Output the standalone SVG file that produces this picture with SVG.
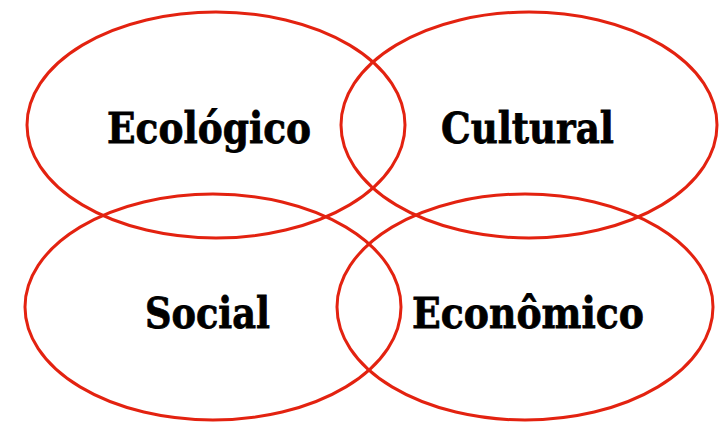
<svg xmlns="http://www.w3.org/2000/svg" width="728" height="430" viewBox="0 0 728 430">
<style>
.c{fill:none;stroke:#e32210;stroke-width:3}
.t{font-family:"DejaVu Serif","Liberation Serif",serif;font-weight:bold;font-size:42px;fill:#000;stroke:#000;stroke-width:0.8}
</style>
<rect width="728" height="430" fill="#fff"/>
<g id="ecologico"><ellipse class="c" cx="216" cy="125" rx="189" ry="113"/><text class="t" x="107" y="143" textLength="204" lengthAdjust="spacingAndGlyphs">Ecológico</text></g>
<g id="cultural"><ellipse class="c" cx="529" cy="125" rx="188" ry="113"/><text class="t" x="441" y="143" textLength="173" lengthAdjust="spacingAndGlyphs">Cultural</text></g>
<g id="social"><ellipse class="c" cx="213" cy="307" rx="188" ry="113"/><text class="t" x="145" y="328" textLength="125" lengthAdjust="spacingAndGlyphs">Social</text></g>
<g id="economico"><ellipse class="c" cx="525" cy="307" rx="188" ry="113"/><text class="t" x="412" y="328" textLength="232" lengthAdjust="spacingAndGlyphs">Econômico</text></g>
<g id="connectors"/>
</svg>
